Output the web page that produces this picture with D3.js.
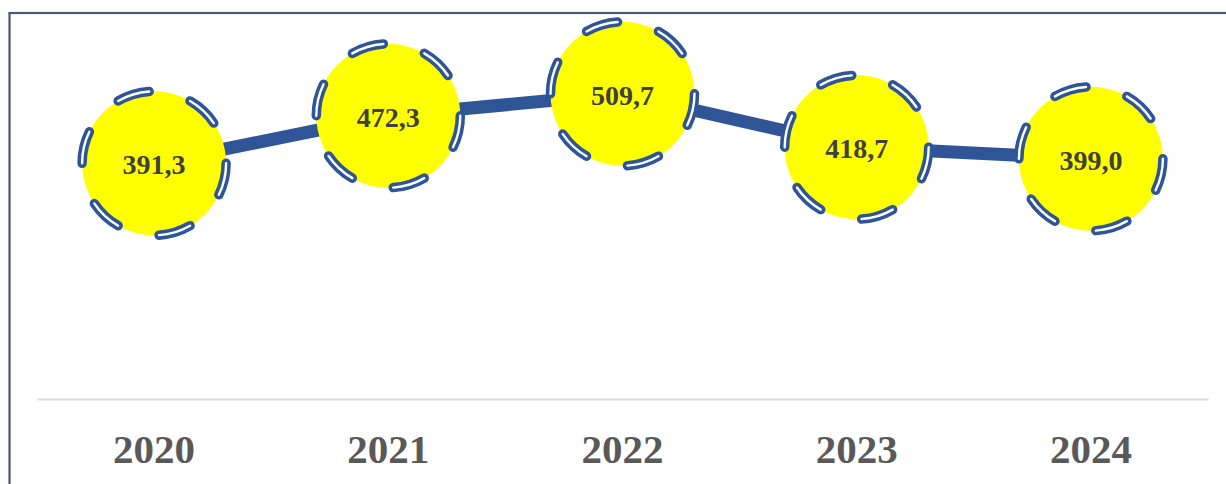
<!DOCTYPE html>
<html>
<head>
<meta charset="utf-8">
<script src="https://cdn.jsdelivr.net/npm/d3@7"></script>
<style>
  html, body { margin: 0; padding: 0; background: #fff; }
  svg { display: block; }
</style>
</head>
<body>
<svg></svg>
<script>
// chart data
const years = ["2020", "2021", "2022", "2023", "2024"];
const values = [391.3, 472.3, 509.7, 418.7, 399.0];
const valueLabels = ["391,3", "472,3", "509,7", "418,7", "399,0"];

const width = 1226;
const height = 484;
const plot = { left: 37, right: 1208, top: 12, bottom: 399 };

const svg = d3.select("svg")
    .attr("width", width)
    .attr("height", height);

// outer frame (right and bottom edges fall outside the picture)
svg.append("rect")
    .attr("x", 9.5)
    .attr("y", 13)
    .attr("width", 1240)
    .attr("height", 500)
    .attr("fill", "none")
    .attr("stroke", "#4a5870")
    .attr("stroke-width", 2.2);

const xScale = d3.scaleBand()
    .domain(years)
    .range([plot.left, plot.right]);

const yScale = d3.scaleLinear()
    .domain([0, 650])
    .range([393, 393 - 650 * 0.587]);

const data = years.map((y, i) => ({ year: y, value: values[i], label: valueLabels[i] }));
const cx = d => xScale(d.year) + xScale.bandwidth() / 2;
const cy = d => yScale(d.value);

// category axis: light baseline + bold year labels
const xAxis = d3.axisBottom(xScale).tickSize(0).tickPadding(0);
const axisG = svg.append("g")
    .attr("transform", `translate(0, ${plot.bottom})`)
    .call(xAxis);
axisG.select(".domain")
    .attr("stroke", "#d9d9d9")
    .attr("stroke-width", 2);
axisG.selectAll("text")
    .attr("dy", 0)
    .attr("y", 64)
    .attr("font-family", "'Liberation Serif', 'Times New Roman', serif")
    .attr("font-weight", "bold")
    .attr("font-size", "41px")
    .attr("fill", "#595959");

// connecting line
const line = d3.line().x(cx).y(cy);
svg.append("path")
    .datum(data)
    .attr("d", line)
    .attr("fill", "none")
    .attr("stroke", "#2f5597")
    .attr("stroke-width", 13);

// markers
const r = 72;
const marks = svg.selectAll("g.mark")
    .data(data)
    .enter()
    .append("g")
    .attr("class", "mark")
    .attr("transform", d => `translate(${cx(d)}, ${cy(d)})`);

marks.append("circle")
    .attr("r", r)
    .attr("fill", "#ffff00");

// dashed outline: blue dash with white core
marks.append("circle")
    .attr("r", r)
    .attr("fill", "none")
    .attr("pathLength", 360)
    .attr("stroke", "#2f5597")
    .attr("stroke-width", 9.5)
    .attr("stroke-linecap", "round")
    .attr("stroke-dasharray", "26 34");

marks.append("circle")
    .attr("r", r)
    .attr("fill", "none")
    .attr("pathLength", 360)
    .attr("stroke", "#ffffff")
    .attr("stroke-width", 2.4)
    .attr("stroke-linecap", "round")
    .attr("stroke-dasharray", "26 34");

marks.append("text")
    .attr("text-anchor", "middle")
    .attr("y", 11)
    .attr("font-family", "'Liberation Serif', 'Times New Roman', serif")
    .attr("font-weight", "bold")
    .attr("font-size", "28px")
    .attr("fill", "#404040")
    .text(d => d.label);
</script>
</body>
</html>
